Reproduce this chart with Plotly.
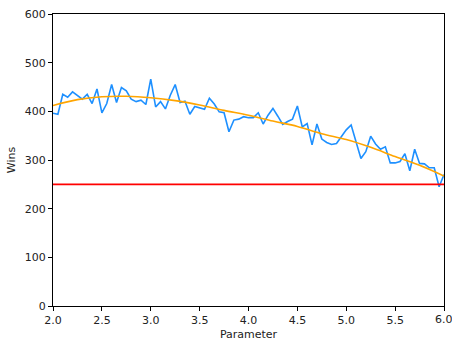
import numpy as np
import plotly.graph_objects as go

param = [round(2.0 + 0.05 * i, 2) for i in range(81)]
wins = [396, 394, 435, 429, 440, 433, 425, 435, 416, 446,
        397, 416, 455, 418, 449, 442, 425, 420, 423, 414,
        466, 409, 420, 405, 433, 455, 418, 421, 394, 410,
        407, 404, 427, 415, 399, 397, 358, 382, 384, 389,
        387, 387, 397, 374, 392, 406, 390, 373, 379, 384,
        411, 368, 375, 331, 374, 343, 336, 332, 334, 348,
        362, 372, 338, 303, 317, 349, 333, 322, 327, 294,
        294, 297, 313, 278, 322, 293, 292, 284, 284, 245,
        270]

trend_x = [2.0, 2.25, 2.5, 2.75, 3.0, 3.25, 3.5, 3.75, 4.0,
           4.25, 4.5, 4.75, 5.0, 5.25, 5.5, 5.75, 6.0]
trend_y = [412, 424, 430, 431, 428, 422, 413, 402, 392,
           380, 369, 354, 342, 326, 307, 289, 267]

threshold = 250
x_ticks = [2.0, 2.5, 3.0, 3.5, 4.0, 4.5, 5.0, 5.5, 6.0]
y_ticks = [0, 100, 200, 300, 400, 500, 600]

font = dict(family="DejaVu Sans", size=11, color="#222")

fig = go.Figure()
fig.add_trace(go.Scatter(x=param, y=wins, mode="lines",
                         line=dict(color="#1e90ff", width=1.6), showlegend=False))
fig.add_trace(go.Scatter(x=trend_x, y=trend_y, mode="lines",
                         line=dict(color="orange", width=1.6, shape="spline"), showlegend=False))
fig.add_hline(y=threshold, line=dict(color="red", width=1.6))

axis_common = dict(showgrid=False, zeroline=False, showline=True, linecolor="black",
                   linewidth=1, mirror=True, ticks="outside", ticklen=4, tickwidth=1,
                   tickcolor="black", tickfont=font, automargin=False)

fig.update_xaxes(range=[2.0, 6.0], tickvals=x_ticks, ticktext=[f"{v:.1f}" for v in x_ticks],
                 title=dict(text="Parameter", font=font, standoff=4), **axis_common)
fig.update_yaxes(range=[0, 600], tickvals=y_ticks,
                 title=dict(text="Wins", font=font, standoff=6), **axis_common)

# last tick label overflows the page edge; draw it explicitly so it is partly visible
fig.add_annotation(x=x_ticks[-1], xref="x", y=0, yref="paper", text=f"{x_ticks[-1]:.1f}",
                   showarrow=False, xanchor="center", yanchor="top", yshift=-5, font=font)

fig.update_layout(width=452, height=343, margin=dict(l=53, r=8, t=14, b=37),
                  plot_bgcolor="white", paper_bgcolor="white")

fig.write_html("out.html")
